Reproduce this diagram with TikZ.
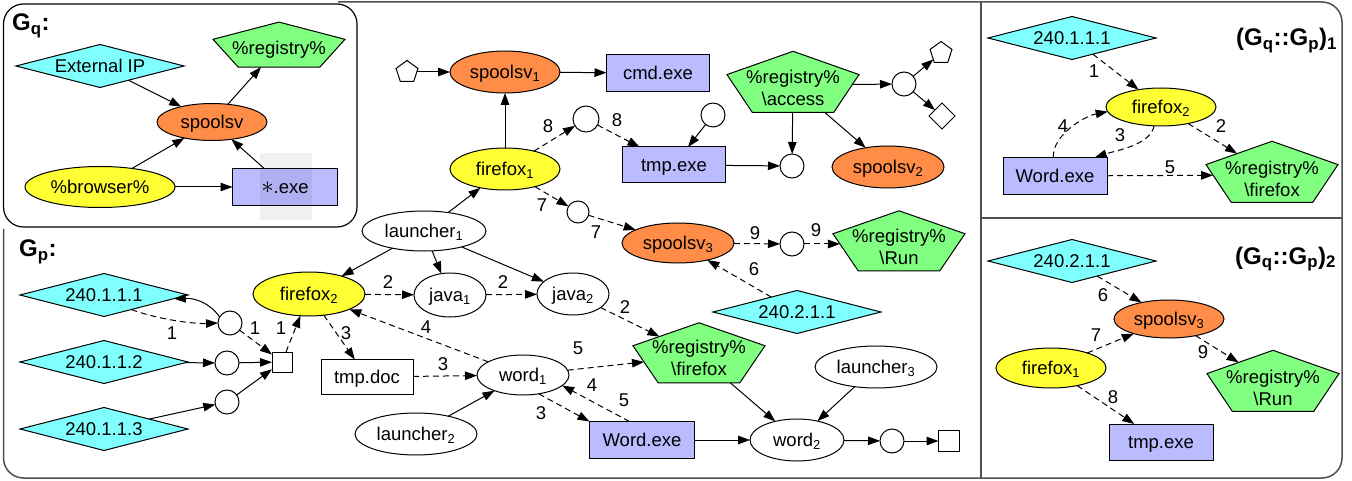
\documentclass[tikz,border=0pt]{standalone}
\usepackage{fontspec}
\setmainfont{Liberation Sans}
\usetikzlibrary{shapes.geometric,arrows.meta}
\definecolor{cyanf}{HTML}{80FFFF}
\definecolor{greenf}{HTML}{80FF80}
\definecolor{orangef}{HTML}{FF8D47}
\definecolor{yellowf}{HTML}{FFFF33}
\definecolor{lavf}{HTML}{BBBBFF}
\definecolor{framec}{HTML}{505050}
\newcommand\sbs[1]{\textsubscript{#1}}
\newcommand\pentnode[5]{%
  \begin{scope}[shift={(#2,#3)},xscale={69.4/#4}]
    \node[pentshape,fill=#5,minimum size={2*#4}] (#1) at (0,0) {};
  \end{scope}}
\tikzset{
 nd/.style={draw=black,line width=1pt,inner sep=0pt,outer sep=0pt},
 txt/.style={text height=13.5pt,text depth=0.5pt},
 pentshape/.style={nd,regular polygon,regular polygon sides=5,transform shape},
 ell/.style 2 args={nd,txt,ellipse,minimum width=#1,minimum height=#2},
 diam/.style={nd,txt,diamond,aspect=4,fill=cyanf,minimum width=168,minimum height=43},
 boxn/.style={nd,txt,rectangle,fill=lavf,minimum width=104,minimum height=37},
 circn/.style={nd,circle,fill=white,minimum size=24},
 smallpent/.style={nd,regular polygon,regular polygon sides=5,minimum size=23,fill=white},
 lbl/.style={inner sep=0pt},
 ptxt/.style={inner sep=0pt,align=center,font=\fontsize{18.5}{22.5}\selectfont},
 ttl/.style={inner sep=0pt,anchor=base west,font=\fontsize{24}{26}\selectfont\bfseries},
 ar/.style={line width=1pt,-{Triangle[length=12pt,width=8.5pt]}},
 dar/.style={ar,dash pattern=on 6pt off 4pt},
 frame/.style={draw=framec,line width=1.5pt},
}
\begin{document}
\begin{tikzpicture}[x=1pt,y=-1pt,font=\fontsize{18.5}{22}\selectfont]
\useasboundingbox (0,0) rectangle (1352,481);
% frames
\draw[frame,rounded corners=20pt] (338,2) -- (1342,2) -- (1342,478) -- (3.5,478) -- (3.5,229);
\draw[frame] (981,2) -- (981,478);
\draw[frame] (981,218) -- (1342,218);
\draw[draw=black,line width=1.2pt,rounded corners=20pt,fill=white] (3.5,4) rectangle (357,227);

% ---------- G_q ----------
\node[ttl] (tq) at (12,31) {G\sbs{q}:};
\node[diam] (gqext) at (100,66) {External IP};
\pentnode{gqreg}{279}{47}{24.9}{greenf}
\node[ptxt] (gqregt) at (279,50) {\%registry\%};
\node[ell={110}{37},fill=orangef] (gqsp) at (212,122) {spoolsv};
\node[ell={150}{41},fill=yellowf] (gqbr) at (100,187) {\%browser\%};
\node[boxn,minimum width=105] (gqexe) at (285,187) {{\fontsize{30}{30}\selectfont$\ast$}.exe};
\draw[ar] (gqext) -- (gqsp);
\draw[ar] (gqsp) -- (gqreg);
\draw[ar] (gqbr) -- (gqsp);
\draw[ar] (gqexe) -- (gqsp);
\draw[ar] (gqbr) -- (gqexe);
\fill[black,opacity=0.06] (260,153) rectangle (312,220);

% ---------- G_p ----------
\node[ttl] (tp) at (19,257) {G\sbs{p}:};
\node[diam] (ip1) at (104,295) {240.1.1.1};
\node[diam] (ip2) at (104,362) {240.1.1.2};
\node[diam] (ip3) at (104,429) {240.1.1.3};
\node[circn] (c1) at (230,323) {};
\node[circn] (c2) at (227,363) {};
\node[circn] (c3) at (227,402) {};
\node[nd,rectangle,fill=white,minimum size=20] (sq1) at (282,362) {};
\node[ell={112}{44},fill=yellowf] (ff2) at (309,294) {firefox\sbs{2}};
\node[ell={124}{40},fill=white] (l1) at (424,231) {launcher\sbs{1}};
\node[ell={110}{42},fill=yellowf] (ff1) at (505,169) {firefox\sbs{1}};
\node[ell={110}{42},fill=orangef] (sp1) at (505,72) {spoolsv\sbs{1}};
\node[smallpent] (p1) at (407,72) {};
\node[boxn,minimum width=103] (cmd) at (658,73) {cmd.exe};
\node[circn,minimum size=26] (c8a) at (586,119) {};
\node[boxn,minimum width=103,minimum height=36] (tmpexe) at (674,165) {tmp.exe};
\node[circn] (c8b) at (713,115) {};
\node[circn] (c12) at (792,166) {};
\pentnode{acc}{793}{85}{33.7}{greenf}
\node[ptxt] (acct) at (793,88) {\%registry\%\\\textbackslash access};
\node[circn] (c11) at (904,84) {};
\node[smallpent] (p2) at (941,53) {};
\node[nd,diamond,aspect=1,minimum width=26,minimum height=26,fill=white] (d2) at (942,116) {};
\node[ell={112}{42},fill=orangef] (sp2) at (888,167) {spoolsv\sbs{2}};
\node[circn,minimum size=22] (c7) at (578,212) {};
\node[ell={112}{40},fill=orangef] (sp3) at (678,243) {spoolsv\sbs{3}};
\node[circn] (c9) at (792,244) {};
\pentnode{run}{899}{244}{33.2}{greenf}
\node[ptxt] (runt) at (899,247) {\%registry\%\\\textbackslash Run};
\node[diam] (ip21) at (797,312) {240.2.1.1};
\node[ell={72}{44},fill=white] (java1) at (450,295) {java\sbs{1}};
\node[ell={72}{42},fill=white] (java2) at (573,294) {java\sbs{2}};
\pentnode{regff}{699}{356}{33.2}{greenf}
\node[ptxt] (regfft) at (699,358) {\%registry\%\\\textbackslash firefox};
\node[boxn,fill=white,minimum width=92,minimum height=35] (tmpdoc) at (367,377) {tmp.doc};
\node[ell={92}{40},fill=white] (w1) at (523,375) {word\sbs{1}};
\node[ell={122}{42},fill=white] (l2) at (416,434) {launcher\sbs{2}};
\node[boxn,minimum width=105] (wexe) at (642,440) {Word.exe};
\node[ell={94}{42},fill=white] (w2) at (797,440) {word\sbs{2}};
\node[ell={122}{42},fill=white] (l3) at (876,367) {launcher\sbs{3}};
\node[circn] (c10) at (892,441) {};
\node[nd,rectangle,fill=white,minimum size=21] (sq2) at (949,441) {};

\draw[ar] (c1.150) .. controls (210,303) and (195,298) .. (ip1.-3);
\draw[dar] (ip1.-28) .. controls (160,320) and (195,324) .. (c1.west);
\draw[ar] (ip2) -- (c2);
\draw[ar] (ip3) -- (c3);
\draw[dar] (c1) -- (sq1);
\draw[ar] (c2) -- (sq1);
\draw[ar] (c3) -- (sq1);
\draw[dar] (sq1) -- (ff2);
\draw[ar] (p1) -- (sp1);
\draw[ar] (sp1) -- (cmd);
\draw[ar] (ff1) -- (sp1);
\draw[dar] (ff1) -- (c8a);
\draw[dar] (c8a) -- (tmpexe);
\draw[ar] (c8b) -- (tmpexe);
\draw[ar] (tmpexe) -- (c12);
\draw[ar] (acc) -- (c12);
\draw[ar] (acc) -- (sp2);
\draw[ar] (acc) -- (c11);
\draw[ar] (c11) -- (p2);
\draw[ar] (c11) -- (d2);
\draw[dar] (ff1) -- (c7);
\draw[dar] (c7) -- (sp3);
\draw[dar] (sp3) -- (c9);
\draw[dar] (c9) -- (run);
\draw[dar] (ip21) -- (sp3);
\draw[ar] (l1) -- (ff1);
\draw[ar] (l1) -- (ff2);
\draw[ar] (l1) -- (java1);
\draw[ar] (l1) -- (java2);
\draw[dar] (ff2) -- (java1);
\draw[dar] (java1) -- (java2);
\draw[dar] (java2) -- (regff);
\draw[dar] (ff2) -- (tmpdoc);
\draw[dar] (tmpdoc) -- (w1);
\draw[dar] (w1) -- (ff2);
\draw[dar] (w1) -- (regff);
\draw[dar] (w1.-50) -- (wexe.north west);
\draw[dar] (wexe.124) -- (w1.-15);
\draw[ar] (l2) -- (w1);
\draw[ar] (regff) -- (w2);
\draw[ar] (l3) -- (w2);
\draw[ar] (wexe) -- (w2);
\draw[ar] (w2) -- (c10);
\draw[ar] (c10) -- (sq2);

\node[lbl] (la1) at (172,333) {1};
\node[lbl] (la2) at (255,328) {1};
\node[lbl] (la3) at (281,328) {1};
\node[lbl] (la4) at (388,282) {2};
\node[lbl] (la5) at (503,282) {2};
\node[lbl] (la6) at (625,307) {2};
\node[lbl] (la7) at (346,333) {3};
\node[lbl] (la8) at (443,364) {3};
\node[lbl] (la9) at (426,327) {4};
\node[lbl] (la10) at (578,348) {5};
\node[lbl] (la11) at (541,413) {3};
\node[lbl] (la12) at (592,385) {4};
\node[lbl] (la13) at (624,400) {5};
\node[lbl] (la14) at (548,126) {8};
\node[lbl] (la15) at (617,120) {8};
\node[lbl] (la16) at (542,205) {7};
\node[lbl] (la17) at (596,232) {7};
\node[lbl] (la18) at (755,233) {9};
\node[lbl] (la19) at (816,230) {9};
\node[lbl] (la20) at (754,269) {6};

% ---------- (Gq::Gp)_1 ----------
\node[ttl] (t1) at (1236,46) {(G\sbs{q}::G\sbs{p})\sbs{1}};
\node[diam] (r1ip) at (1072,38) {240.1.1.1};
\node[ell={110}{38},fill=yellowf] (r1ff) at (1161,107) {firefox\sbs{2}};
\node[boxn] (r1w) at (1055,176) {Word.exe};
\pentnode{r1reg}{1272}{175}{33.7}{greenf}
\node[ptxt] (r1regt) at (1272,179) {\%registry\%\\\textbackslash firefox};
\draw[dar] (r1ip) -- (r1ff);
\draw[dar] (r1ff) -- (r1reg);
\draw[dar] (r1ff.-110) .. controls (1150,145) and (1118,150) .. (r1w.25);
\draw[dar] (r1w.95) .. controls (1052,135) and (1085,116) .. (r1ff.185);
\draw[dar] (r1w) -- (r1reg);
\node[lbl] (lb1) at (1094,71) {1};
\node[lbl] (lb2) at (1221,126) {2};
\node[lbl] (lb3) at (1120,135) {3};
\node[lbl] (lb4) at (1063,126) {4};
\node[lbl] (lb5) at (1170,167) {5};

% ---------- (Gq::Gp)_2 ----------
\node[ttl] (t2) at (1235,264) {(G\sbs{q}::G\sbs{p})\sbs{2}};
\node[diam] (r2ip) at (1072,261) {240.2.1.1};
\node[ell={110}{38},fill=orangef] (r2sp) at (1169,319) {spoolsv\sbs{3}};
\node[ell={110}{40},fill=yellowf] (r2ff) at (1051,368) {firefox\sbs{1}};
\pentnode{r2reg}{1273}{384}{33.7}{greenf}
\node[ptxt] (r2regt) at (1273,388) {\%registry\%\\\textbackslash Run};
\node[boxn,minimum height=36] (r2tmp) at (1161,442) {tmp.exe};
\draw[dar] (r2ip) -- (r2sp);
\draw[dar] (r2ff) -- (r2sp);
\draw[dar] (r2sp) -- (r2reg);
\draw[dar] (r2ff) -- (r2tmp);
\node[lbl] (lc6) at (1103,295) {6};
\node[lbl] (lc7) at (1096,335) {7};
\node[lbl] (lc9) at (1203,352) {9};
\node[lbl] (lc8) at (1113,397) {8};
\end{tikzpicture}
\end{document}
